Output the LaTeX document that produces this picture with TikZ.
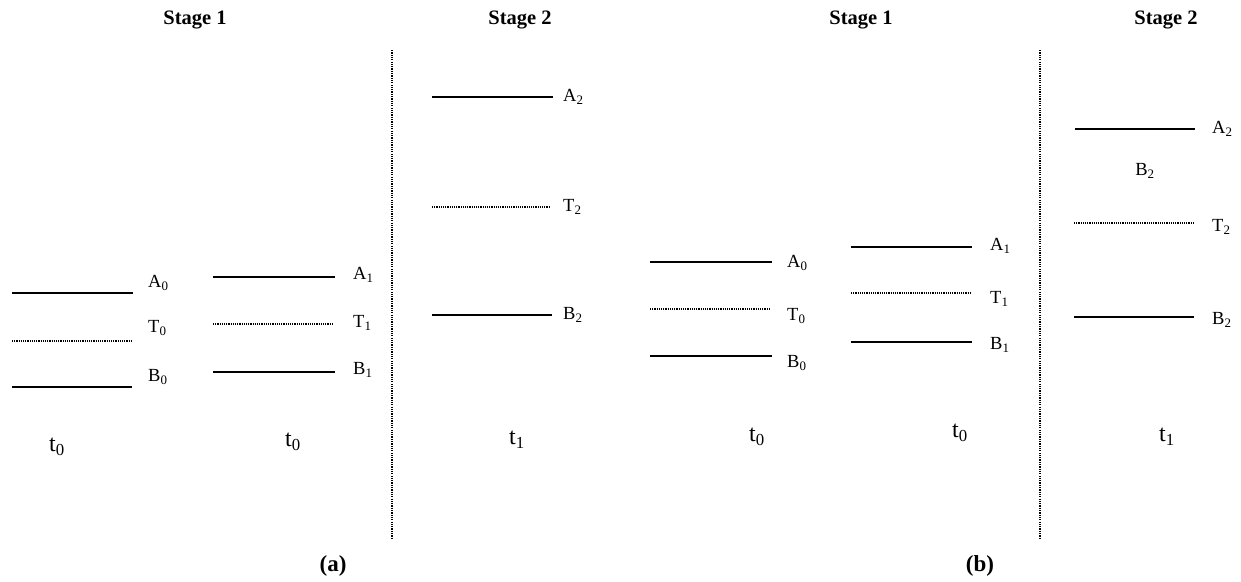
\documentclass[tikz,border=0pt]{standalone}
\usepackage{fontspec}
\setmainfont{Liberation Serif}
\begin{document}
\begin{tikzpicture}[x=1pt,y=-1pt,
  level/.style={line width=1.8pt},
  trans/.style={line width=1.3pt, dash pattern=on 1.1pt off 1.1pt},
  sep/.style={line width=1.4pt, dash pattern=on 1.2pt off 1.1pt},
  lbl/.style={anchor=west, inner sep=0pt, font=\fontsize{18.5}{18.5}\selectfont},
  tlbl/.style={inner sep=0pt, font=\fontsize{24}{24}\selectfont},
  stage/.style={inner sep=0pt, font=\bfseries\fontsize{20.5}{20.5}\selectfont},
  panel/.style={inner sep=0pt, font=\bfseries\fontsize{23}{23}\selectfont}]
\useasboundingbox (0,0) rectangle (1241,581);

% ---------- panel (a) ----------
\node[stage] (aS1) at (195,20) {Stage 1};
\node[stage] (aS2) at (520,20) {Stage 2};

% column 1
\coordinate (aA0l) at (12,293);  \coordinate (aA0r) at (133,293);
\coordinate (aT0l) at (12,341);  \coordinate (aT0r) at (131,341);
\coordinate (aB0l) at (12,387);  \coordinate (aB0r) at (132,387);
\draw[level] (aA0l) -- (aA0r);
\draw[trans] (aT0l) -- (aT0r);
\draw[level] (aB0l) -- (aB0r);
\node[lbl] (aA0) at (148,283) {A\textsubscript{0}};
\node[lbl] (aT0) at (148,328) {T\textsubscript{0}};
\node[lbl] (aB0) at (148,377) {B\textsubscript{0}};
\node[tlbl] (at0a) at (57,447) {t\textsubscript{0}};

% column 2
\coordinate (aA1l) at (213,277); \coordinate (aA1r) at (335,277);
\coordinate (aT1l) at (213,324); \coordinate (aT1r) at (333,324);
\coordinate (aB1l) at (213,372); \coordinate (aB1r) at (335,372);
\draw[level] (aA1l) -- (aA1r);
\draw[trans] (aT1l) -- (aT1r);
\draw[level] (aB1l) -- (aB1r);
\node[lbl] (aA1) at (353,275) {A\textsubscript{1}};
\node[lbl] (aT1) at (353,323) {T\textsubscript{1}};
\node[lbl] (aB1) at (353,370) {B\textsubscript{1}};
\node[tlbl] (at0b) at (293,442) {t\textsubscript{0}};

% separator
\coordinate (asepT) at (392,50); \coordinate (asepB) at (392,538);
\draw[sep] (asepT) -- (asepB);

% stage 2
\coordinate (aA2l) at (432,97);  \coordinate (aA2r) at (553,97);
\coordinate (aT2l) at (432,207); \coordinate (aT2r) at (550,207);
\coordinate (aB2l) at (432,315); \coordinate (aB2r) at (552,315);
\draw[level] (aA2l) -- (aA2r);
\draw[trans] (aT2l) -- (aT2r);
\draw[level] (aB2l) -- (aB2r);
\node[lbl] (aA2) at (563,97)  {A\textsubscript{2}};
\node[lbl] (aT2) at (563,207) {T\textsubscript{2}};
\node[lbl] (aB2) at (563,315) {B\textsubscript{2}};
\node[tlbl] (at1) at (517,440) {t\textsubscript{1}};

\node[panel] (pa) at (333,566) {(a)};

% ---------- panel (b) ----------
\node[stage] (bS1) at (861,20) {Stage 1};
\node[stage] (bS2) at (1166,20) {Stage 2};

% column 1
\coordinate (bA0l) at (650,262); \coordinate (bA0r) at (772,262);
\coordinate (bT0l) at (650,309); \coordinate (bT0r) at (770,309);
\coordinate (bB0l) at (650,356); \coordinate (bB0r) at (772,356);
\draw[level] (bA0l) -- (bA0r);
\draw[trans] (bT0l) -- (bT0r);
\draw[level] (bB0l) -- (bB0r);
\node[lbl] (bA0) at (787,263) {A\textsubscript{0}};
\node[lbl] (bT0) at (787,316) {T\textsubscript{0}};
\node[lbl] (bB0) at (787,363) {B\textsubscript{0}};
\node[tlbl] (bt0a) at (757,437) {t\textsubscript{0}};

% column 2
\coordinate (bA1l) at (851,247); \coordinate (bA1r) at (972,247);
\coordinate (bT1l) at (851,293); \coordinate (bT1r) at (970,293);
\coordinate (bB1l) at (851,342); \coordinate (bB1r) at (972,342);
\draw[level] (bA1l) -- (bA1r);
\draw[trans] (bT1l) -- (bT1r);
\draw[level] (bB1l) -- (bB1r);
\node[lbl] (bA1) at (990,246) {A\textsubscript{1}};
\node[lbl] (bT1) at (990,299) {T\textsubscript{1}};
\node[lbl] (bB1) at (990,345) {B\textsubscript{1}};
\node[tlbl] (bt0b) at (960,433) {t\textsubscript{0}};

% separator
\coordinate (bsepT) at (1040,50); \coordinate (bsepB) at (1040,538);
\draw[sep] (bsepT) -- (bsepB);

% stage 2
\coordinate (bA2l) at (1075,129); \coordinate (bA2r) at (1195,129);
\coordinate (bT2l) at (1074,223); \coordinate (bT2r) at (1193,223);
\coordinate (bB2l) at (1074,317); \coordinate (bB2r) at (1194,317);
\draw[level] (bA2l) -- (bA2r);
\draw[trans] (bT2l) -- (bT2r);
\draw[level] (bB2l) -- (bB2r);
\node[lbl] (bA2) at (1212,129) {A\textsubscript{2}};
\node[lbl] (bT2) at (1212,227) {T\textsubscript{2}};
\node[lbl] (bB2) at (1212,320) {B\textsubscript{2}};
\node[lbl, anchor=center] (bB2f) at (1145,171) {B\textsubscript{2}};
\node[tlbl] (bt1) at (1167,437) {t\textsubscript{1}};

\node[panel] (pb) at (980,566) {(b)};
\end{tikzpicture}
\end{document}
